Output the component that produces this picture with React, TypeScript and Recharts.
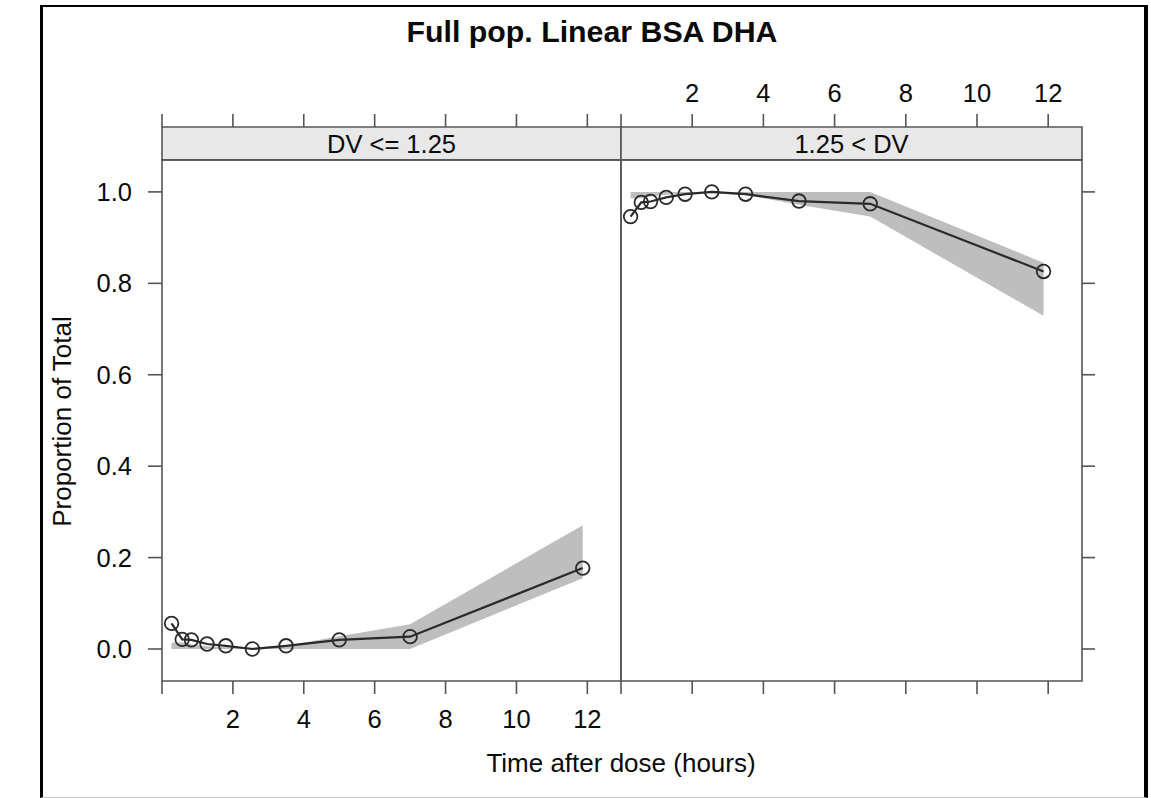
import { ComposedChart, Area, Line, XAxis, YAxis, ReferenceArea } from 'recharts'

// observation times (hours)
const TIMES = [0.27, 0.57, 0.83, 1.27, 1.8, 2.55, 3.5, 5.0, 7.0, 11.87]

// panel "DV <= 1.25"
const LOW_OBS = [0.056, 0.021, 0.02, 0.011, 0.007, 0.0, 0.007, 0.02, 0.027, 0.177]
const LOW_BAND_LO = [0, 0, 0, 0, 0, 0, 0, 0, 0, 0.155]
const LOW_BAND_HI = [0.014, 0.014, 0.01, 0.006, 0.004, 0.003, 0.007, 0.028, 0.054, 0.271]

// panel "1.25 < DV"
const HIGH_OBS = [0.946, 0.977, 0.979, 0.988, 0.995, 1.0, 0.995, 0.98, 0.974, 0.826]
const HIGH_BAND_LO = [0.986, 0.986, 0.99, 0.994, 0.996, 0.997, 0.993, 0.972, 0.946, 0.729]
const HIGH_BAND_HI = [1, 1, 1, 1, 1, 1, 1, 1, 1, 0.845]

const X_TICKS = [0, 2, 4, 6, 8, 10, 12]
const Y_TICKS = [0, 0.2, 0.4, 0.6, 0.8, 1.0]

const X_DOMAIN: [number, number] = [0, 12.95]
const Y_DOMAIN: [number, number] = [-0.07, 1.142]
const STRIP_BOTTOM = 1.07

const FONT = '"Liberation Sans", Arial, Helvetica, sans-serif'
const AXIS = '#555'
const INK = '#2a2a2a'
const TEXT = '#0a0a0a'

const xLabel = (v: number) => (v === 0 ? '' : String(v))
const blank = () => ''

const buildRows = (obs: number[], lo: number[], hi: number[]) =>
  TIMES.map((t, i) => ({ time: t, obs: obs[i], band: [lo[i], hi[i]] }))

const tickText = { fontSize: 25.5, fill: TEXT, fontFamily: FONT }
const tickLine = { stroke: AXIS, strokeWidth: 1.6 }

function Panel({ rows, strip, first }: { rows: any[]; strip: string; first: boolean }) {
  const width = first ? 640 : 591
  const margin = first
    ? { top: 87, right: 19, bottom: 77, left: 102 }
    : { top: 87, right: 39, bottom: 77, left: 61 }

  return (
    <ComposedChart width={width} height={798} data={rows} margin={margin}>
      <XAxis
        dataKey="time" type="number" domain={X_DOMAIN} allowDataOverflow ticks={X_TICKS} interval={0}
        tickFormatter={first ? xLabel : blank} tickSize={13} tickMargin={16} height={40}
        axisLine={false} tickLine={tickLine} tick={tickText}
      />
      <XAxis
        xAxisId="top" orientation="top" dataKey="time" type="number" domain={X_DOMAIN} allowDataOverflow
        ticks={X_TICKS} interval={0} tickFormatter={first ? blank : xLabel} tickSize={13} tickMargin={12}
        height={40} axisLine={false} tickLine={tickLine} tick={tickText}
      />
      {first ? (
        <YAxis
          type="number" domain={Y_DOMAIN} allowDataOverflow ticks={Y_TICKS} interval={0} width={60}
          tickFormatter={(v: number) => v.toFixed(1)} tickSize={14} tickMargin={16}
          axisLine={false} tickLine={tickLine} tick={tickText}
        />
      ) : (
        <YAxis
          orientation="right" type="number" domain={Y_DOMAIN} allowDataOverflow ticks={Y_TICKS} interval={0}
          width={30} tickFormatter={blank} tickSize={13} axisLine={false} tickLine={tickLine} tick={tickText}
        />
      )}

      {/* strip */}
      <ReferenceArea
        x1={X_DOMAIN[0]} x2={X_DOMAIN[1]} y1={STRIP_BOTTOM} y2={Y_DOMAIN[1]}
        fill="#e8e8e8" fillOpacity={1} stroke={AXIS} strokeWidth={1.6}
        label={{ value: strip, position: 'center', fontSize: 25.5, fill: TEXT, fontFamily: FONT }}
      />

      <Area
        type="linear" dataKey="band" fill="#bebebe" fillOpacity={1} stroke="none"
        isAnimationActive={false} activeDot={false}
      />
      <Line
        type="linear" dataKey="obs" stroke={INK} strokeWidth={2.2}
        dot={{ r: 6.8, fill: 'none', stroke: INK, strokeWidth: 1.8 }}
        activeDot={false} isAnimationActive={false}
      />

      {/* panel box */}
      <ReferenceArea
        x1={X_DOMAIN[0]} x2={X_DOMAIN[1]} y1={Y_DOMAIN[0]} y2={STRIP_BOTTOM}
        fill="none" stroke={AXIS} strokeWidth={1.6}
      />
    </ComposedChart>
  )
}

export default function App() {
  const lowRows = buildRows(LOW_OBS, LOW_BAND_LO, LOW_BAND_HI)
  const highRows = buildRows(HIGH_OBS, HIGH_BAND_LO, HIGH_BAND_HI)

  return (
    <div style={{ position: 'absolute', left: 0, top: 0, width: 1151, height: 798, background: '#fff', fontFamily: FONT }}>
      <div
        style={{
          position: 'absolute', left: 40, top: 5, width: 1108, height: 793, boxSizing: 'border-box',
          borderLeft: '3px solid #000', borderTop: '2px solid #000', borderRight: '4px solid #000',
          borderBottom: '1px solid #ccc',
        }}
      />
      <svg width={1151} height={798} style={{ position: 'absolute', left: 0, top: 0 }}>
        <text x={592} y={42} textAnchor="middle" fontSize={30.3} fontWeight="bold" fill={TEXT} fontFamily={FONT}>
          Full pop. Linear BSA DHA
        </text>
        <text x={621} y={772} textAnchor="middle" fontSize={26} fill={TEXT} fontFamily={FONT}>
          Time after dose (hours)
        </text>
        <text
          x={0} y={0} transform="translate(71,421.5) rotate(-90)" textAnchor="middle"
          fontSize={26} fill={TEXT} fontFamily={FONT}
        >
          Proportion of Total
        </text>
      </svg>
      <div style={{ position: 'absolute', left: 0, top: 0 }}>
        <Panel rows={lowRows} strip="DV <= 1.25" first />
      </div>
      <div style={{ position: 'absolute', left: 560, top: 0 }}>
        <Panel rows={highRows} strip="1.25 < DV" first={false} />
      </div>
    </div>
  )
}
